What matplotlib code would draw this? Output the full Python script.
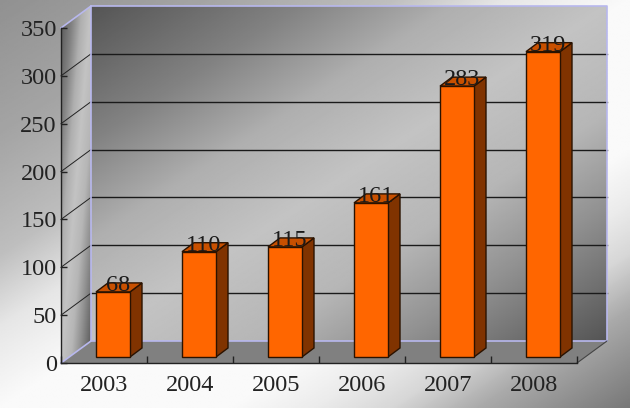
import numpy as np
import matplotlib.pyplot as plt
from matplotlib.patches import Polygon

plt.rcParams['font.family'] = ['Liberation Serif', 'DejaVu Serif']

# data
years = ['2003', '2004', '2005', '2006', '2007', '2008']
values = [68, 110, 115, 161, 283, 319]
y_ticks = [0, 50, 100, 150, 200, 250, 300, 350]

W, H = 630, 408
fig = plt.figure(figsize=(W / 100, H / 100), dpi=100)

# pixel axes for the background and the walls
bg = fig.add_axes([0, 0, 1, 1])
bg.axis('off')

# grey levels along the diagonal, top left to bottom right
back_stops = [0, 0.17, 0.31, 0.40, 0.5, 0.68, 0.75, 0.81, 0.88, 1]
back_greys = [145, 165, 190, 230, 250, 250, 235, 215, 170, 120]
wall_stops = [0, 0.2, 0.35, 0.5, 0.66, 0.8, 1]
wall_greys = [85, 130, 175, 195, 182, 145, 85]


def gradient(x0, x1, y0, y1, stops, greys, clip=None):
    xx, yy = np.meshgrid(np.linspace(0, 1, 300), np.linspace(0, 1, 300))
    img = np.interp((xx + yy) / 2, stops, greys)
    im = bg.imshow(img, extent=[x0, x1, y1, y0], cmap='gray', vmin=0, vmax=255,
                   aspect='auto', interpolation='bilinear')
    if clip is not None:
        im.set_clip_path(Polygon(clip, transform=bg.transData))


left, right, top, bottom = 61, 577, 28, 363
dx, dy = 30, 22

bg.set_xlim(0, W)
bg.set_ylim(H, 0)
gradient(0, W, 0, H, back_stops, back_greys)
bg.set_xlim(0, W)
bg.set_ylim(H, 0)

# back wall, side wall, floor
gradient(left + dx, right + dx, top - dy, bottom - dy, wall_stops, wall_greys)
side = [(left, top), (left + dx, top - dy), (left + dx, bottom - dy), (left, bottom)]
gradient(left, left + dx, top - dy, bottom, wall_stops, wall_greys, clip=side)
floor = [(left, bottom), (left + dx, bottom - dy), (right + dx, bottom - dy), (right, bottom)]
bg.add_patch(Polygon(floor, fc='#808080', ec='none'))
bg.set_xlim(0, W)
bg.set_ylim(H, 0)

# front plane axes with the real scales
ax = fig.add_axes([left / W, 1 - bottom / H, (right - left) / W, (bottom - top) / H])
ax.patch.set_alpha(0)
ax.set_xlim(0, len(years))
ax.set_ylim(0, 350)
for s in ['top', 'right']:
    ax.spines[s].set_visible(False)
for s in ['left', 'bottom']:
    ax.spines[s].set_color('#222222')
    ax.spines[s].set_linewidth(1)

px_x = len(years) / (right - left)
px_y = 350 / (bottom - top)
wall_x, wall_y = dx * px_x, dy * px_y

# gridlines across the side wall and the back wall
for v in y_ticks[1:-1]:
    ax.plot([0, wall_x], [v, v + wall_y], color='#222222', lw=0.7, clip_on=False, zorder=1)
    ax.plot([wall_x, len(years) + wall_x], [v + wall_y, v + wall_y],
            color='#1a1a1a', lw=1, clip_on=False, zorder=1)

# lavender wall edges
edge = '#b8b8ee'
ax.plot([0, wall_x, wall_x], [0, wall_y, 350 + wall_y], color=edge, lw=1.2, clip_on=False, zorder=1)
ax.plot([0, wall_x, len(years) + wall_x, len(years) + wall_x], [350, 350 + wall_y, 350 + wall_y, wall_y],
        color=edge, lw=1.2, clip_on=False, zorder=1)
ax.plot([wall_x, len(years) + wall_x], [wall_y, wall_y], color=edge, lw=1.2, clip_on=False, zorder=1)
ax.plot([len(years), len(years) + wall_x], [0, wall_y], color='#444444', lw=0.8, clip_on=False, zorder=1)

# bars
bar_w = 34 * px_x
shift_x, shift_y = 9 * px_x, 6 * px_y
depth_x, depth_y = 12 * px_x, 9 * px_y
edge_c = '#2a1200'
for i, v in enumerate(values):
    x0 = i + 0.5 - bar_w / 2 + shift_x
    x1 = x0 + bar_w
    y0, y1 = shift_y, shift_y + v
    ax.add_patch(Polygon([(x1, y0), (x1 + depth_x, y0 + depth_y), (x1 + depth_x, y1 + depth_y), (x1, y1)],
                         fc='#803300', ec=edge_c, lw=1, zorder=3, clip_on=False))
    ax.add_patch(Polygon([(x0, y1), (x0 + depth_x, y1 + depth_y), (x1 + depth_x, y1 + depth_y), (x1, y1)],
                         fc='#c85000', ec=edge_c, lw=1, zorder=3, clip_on=False))
    ax.add_patch(Polygon([(x0, y0), (x1, y0), (x1, y1), (x0, y1)],
                         fc='#ff6600', ec=edge_c, lw=1, zorder=4, clip_on=False))
    ax.text((x0 + x1) / 2 + 5 * px_x, y1 - 4 * px_y, str(v), ha='center', va='bottom',
            fontsize=17.5, color='#1a1a1a', zorder=5, clip_on=False)

ax.set_yticks(y_ticks)
ax.set_yticklabels([str(v) for v in y_ticks], fontsize=17.5, color='#222222')
ax.tick_params(axis='y', direction='in', length=4, width=1, color='#222222', pad=3)
ax.set_xticks(np.arange(len(years) + 1))
ax.set_xticklabels([])
ax.tick_params(axis='x', direction='in', length=5, width=1, color='#222222')
ax.set_xticks(np.arange(len(years)) + 0.5, minor=True)
ax.set_xticklabels(years, minor=True, fontsize=17.5, color='#222222')
ax.tick_params(axis='x', which='minor', length=0, pad=8.5)

fig.savefig('out.png', dpi=100)
